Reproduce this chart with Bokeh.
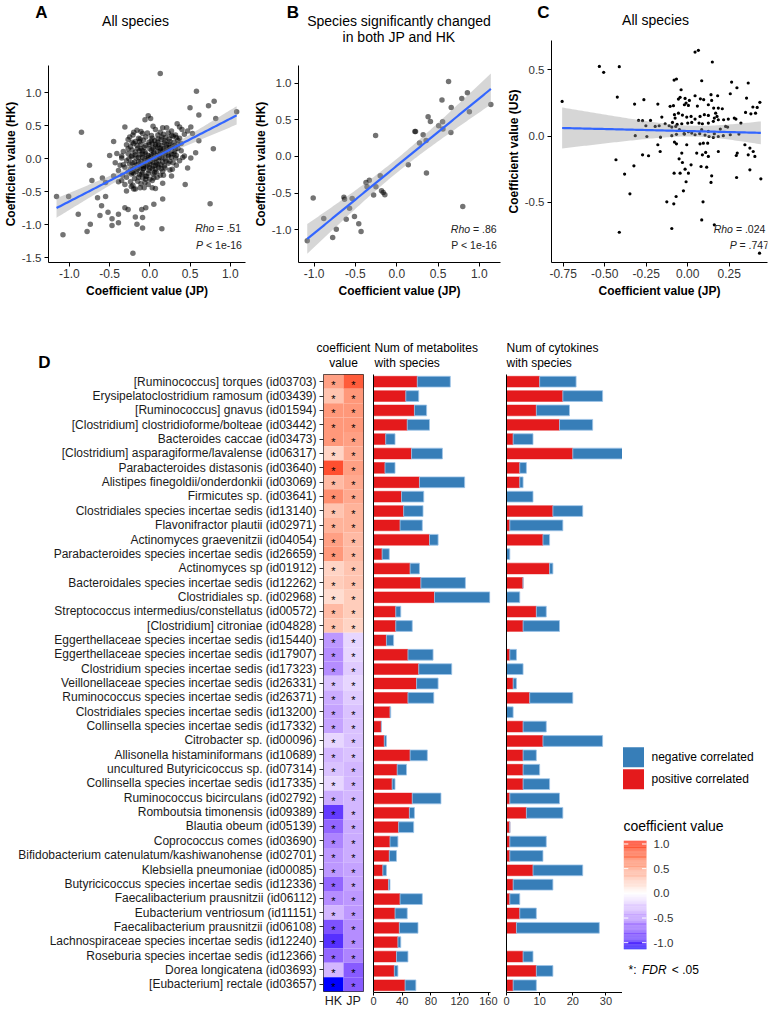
import numpy as np
from bokeh.plotting import figure
from bokeh.layouts import row, column
from bokeh.models import Range1d, Label, FixedTicker, PrintfTickFormatter, ColumnDataSource
from bokeh.core.properties import value
from bokeh.transform import linear_cmap
from bokeh.embed import file_html
from bokeh.resources import INLINE

FONT = "Liberation Sans"
NB = "\u00a0"

# ---------------- data ----------------
# Panel A: all species, coefficient JP (x) vs HK (y)
a_points = [
    (0.13, 1.29), (0.58, 1.02), (0.50, 0.77), (0.73, 0.80), (0.80, 0.87), (1.08, 0.71), (0.61, 0.66),
    (0.82, 0.61), (-0.85, 0.40), (-0.31, 0.48), (-0.02, 0.65), (-0.06, 0.59), (0.01, 0.61), (0.04, 0.49),
    (0.16, 0.47), (0.21, 0.47), (0.34, 0.53), (0.37, 0.48), (0.51, 0.48), (0.47, 0.42), (0.53, 0.38),
    (-0.45, 0.26), (-0.27, 0.29), (-0.75, -0.10), (-0.72, -0.33), (-1.16, -0.57), (-1.01, -0.57),
    (-0.89, -0.84), (-0.65, -0.59), (-0.55, -0.57), (-0.60, -0.71), (-0.62, -0.86), (-0.52, -0.81),
    (-0.39, -0.84), (-0.47, -0.91), (-0.47, -1.01), (-0.39, -0.97), (-0.74, -0.99), (-0.78, -1.10),
    (-1.08, -1.15), (-0.18, -0.88), (-0.09, -0.89), (-0.16, -0.99), (-0.09, -1.05), (-0.21, -1.43),
    (0.15, -1.06), (0.16, -0.61), (0.05, -0.69), (-0.05, -0.74), (-0.10, -0.77), (-0.31, -0.74),
    (-0.27, -0.77), (0.44, -0.39), (0.75, -0.68), (0.79, 0.15), (0.61, 0.27), (0.57, 0.09), (0.51, 0.01),
    (0.43, 0.04), (0.47, -0.14), (0.27, -0.26), (0.17, -0.25), (0.16, -0.37), (-0.50, 0.05), (-0.41, 0.08),
    (-0.35, 0.04), (-0.59, -0.29), (-0.55, -0.36), (-0.45, -0.26), (-0.39, -0.35), (-0.31, -0.39),
    (-0.29, -0.49), (-0.23, -0.42), (-0.20, -0.46), (-0.12, -0.44), (-0.05, -0.31), (0.03, -0.44),
    (0.07, -0.45), (-0.08, -0.15), (-0.22, -0.21), (-0.33, -0.09), (-0.43, -0.06),
    (-0.16, 0.43), (-0.11, 0.41), (0.07, 0.44), (0.13, 0.40), (0.27, 0.42), (0.40, 0.44),
    (-0.21, 0.36), (-0.09, 0.38), (0.02, 0.35), (0.17, 0.37), (0.23, 0.39), (0.32, 0.36), (0.43, 0.37),
    (-0.25, 0.33), (-0.14, 0.31), (-0.05, 0.33), (0.10, 0.30), (0.20, 0.32), (0.29, 0.34), (0.37, 0.31),
    (-0.18, 0.26), (-0.08, 0.28), (-0.01, 0.25), (0.06, 0.27), (0.14, 0.29), (0.25, 0.26), (0.35, 0.28),
    (-0.29, 0.21), (-0.20, 0.23), (-0.11, 0.22), (-0.05, 0.20), (0.03, 0.23), (0.11, 0.21), (0.18, 0.24),
    (0.24, 0.22), (0.31, 0.20), (0.39, 0.23),
    (-0.24, 0.18), (-0.15, 0.16), (-0.07, 0.17), (0.00, 0.15), (0.07, 0.18), (0.13, 0.16), (0.21, 0.17),
    (0.28, 0.19), (0.35, 0.16),
    (-0.33, 0.11), (-0.22, 0.13), (-0.13, 0.12), (-0.06, 0.10), (0.02, 0.13), (0.10, 0.11), (0.16, 0.12),
    (0.23, 0.14), (0.31, 0.11), (0.39, 0.12),
    (-0.27, 0.08), (-0.18, 0.06), (-0.09, 0.07), (-0.02, 0.05), (0.05, 0.08), (0.12, 0.06), (0.19, 0.08),
    (0.27, 0.07), (0.33, 0.05),
    (-0.35, 0.01), (-0.23, 0.03), (-0.14, 0.02), (-0.06, 0.00), (0.01, 0.03), (0.08, 0.01), (0.15, 0.02),
    (0.23, 0.04), (0.32, 0.01), (0.41, 0.02),
    (-0.29, -0.03), (-0.19, -0.05), (-0.11, -0.04), (-0.03, -0.02), (0.04, -0.05), (0.11, -0.03),
    (0.20, -0.04), (0.29, -0.06), (0.37, -0.03),
    (-0.37, -0.10), (-0.25, -0.08), (-0.16, -0.09), (-0.08, -0.11), (0.00, -0.08), (0.07, -0.10),
    (0.14, -0.09), (0.23, -0.07), (0.33, -0.10),
    (-0.31, -0.13), (-0.21, -0.15), (-0.12, -0.14), (-0.05, -0.12), (0.03, -0.15), (0.11, -0.13),
    (0.19, -0.14), (0.28, -0.16),
    (-0.39, -0.18), (-0.27, -0.20), (-0.17, -0.19), (-0.09, -0.21), (-0.01, -0.18), (0.08, -0.20),
    (0.16, -0.19), (0.25, -0.17),
    (-0.34, -0.25), (-0.23, -0.23), (-0.13, -0.24), (-0.04, -0.26), (0.04, -0.23), (0.13, -0.25),
    (-0.29, -0.28), (-0.19, -0.30), (-0.09, -0.29), (0.00, -0.31), (0.09, -0.28),
    (-0.35, -0.33), (-0.24, -0.35), (-0.15, -0.34), (-0.06, -0.36), (0.03, -0.33),
    (-0.21, -0.40), (-0.11, -0.38), (-0.02, -0.39), (-0.18, -0.46), (-0.07, -0.44),
    # dense core
    (-0.20, 0.40), (-0.03, 0.39), (0.10, 0.36), (0.27, 0.35),
    (-0.12, 0.30), (0.03, 0.31), (0.15, 0.33), (0.24, 0.30), (0.33, 0.32),
    (-0.22, 0.25), (-0.13, 0.26), (0.02, 0.27), (0.10, 0.25), (0.19, 0.27), (0.30, 0.25),
    (-0.16, 0.20), (-0.01, 0.21), (0.07, 0.22), (0.15, 0.20), (0.21, 0.21), (0.35, 0.22),
    (-0.27, 0.15), (-0.11, 0.15), (0.04, 0.16), (0.10, 0.17), (0.17, 0.15), (0.25, 0.17), (0.32, 0.15),
    (-0.18, 0.10), (-0.09, 0.12), (0.05, 0.10), (0.13, 0.12), (0.20, 0.10), (0.27, 0.12),
    (-0.22, 0.05), (-0.12, 0.06), (-0.05, 0.07), (0.02, 0.06), (0.09, 0.05), (0.16, 0.07), (0.23, 0.06),
    (0.30, 0.07),
    (-0.26, 0.00), (-0.17, 0.01), (-0.09, 0.02), (-0.02, 0.01), (0.05, 0.00), (0.12, 0.02), (0.19, 0.00),
    (0.27, 0.02),
    (-0.22, -0.06), (-0.14, -0.05), (-0.07, -0.06), (0.01, -0.04), (0.08, -0.06), (0.16, -0.05),
    (0.25, -0.04),
    (-0.19, -0.11), (-0.11, -0.10), (-0.03, -0.10), (0.04, -0.11), (0.10, -0.09), (0.18, -0.11),
    (-0.24, -0.16), (-0.15, -0.16), (-0.08, -0.15), (0.00, -0.14), (0.07, -0.16), (0.14, -0.15),
    (-0.20, -0.22), (-0.10, -0.23), (-0.02, -0.22), (0.06, -0.21),
    (-0.14, -0.28), (-0.05, -0.27), (0.05, -0.29),
]

# Panel B: species significantly changed in both JP and HK
b_points = [
    (0.628, 1.023), (0.548, 0.768), (0.788, 0.791), (0.856, 0.868), (1.14, 0.709), (0.66, 0.668),
    (0.88, 0.609), (0.38, 0.541), (0.408, 0.477), (0.556, 0.473), (0.508, 0.418), (0.56, 0.373),
    (0.656, 0.327), (0.22, 0.341), (0.228, 0.341), (0.32, 0.295), (-0.256, 0.286), (0.276, 0.182),
    (0.356, 0.218), (0.36, -0.227), (0.14, -0.114), (-0.2, -0.264), (-0.332, -0.323), (-0.372, -0.355),
    (-0.36, -0.414), (-0.252, -0.414), (-0.184, -0.468), (-0.28, -0.527), (-0.144, -0.523),
    (-0.164, -0.491), (-1.012, -0.568), (-0.64, -0.555), (-0.632, -0.582), (-0.54, -0.573),
    (-0.572, -0.705), (-0.884, -0.845), (-0.612, -0.855), (-0.512, -0.818), (0.8, -0.682),
    (-0.46, -0.918), (-0.732, -0.991), (-0.432, -1.023), (-0.776, -1.105), (-1.084, -1.15),
]

# Panel C: all species, coefficient JP (x) vs US (y)
c_points = [
    (0.044, 0.633), (0.064, 0.646), (0.148, 0.558), (-0.532, 0.525), (-0.506, 0.480), (-0.412, 0.523),
    (-0.424, 0.294), (-0.756, 0.261), (-0.32, 0.241), (-0.264, 0.274), (-0.18, 0.241), (-0.082, 0.422),
    (-0.068, 0.430), (-0.04, 0.349), (0.084, 0.417), (0.264, 0.407), (0.296, 0.364), (0.364, 0.400),
    (0.256, 0.319), (0.354, 0.286), (0.434, 0.254), (0.392, 0.219), (0.418, 0.216), (0.408, 0.173),
    (0.38, 0.168), (0.348, 0.178), (-0.106, 0.224), (-0.086, 0.229), (-0.056, 0.279), (-0.046, 0.292),
    (-0.016, 0.284), (-0.01, 0.249), (0.004, 0.231), (-0.02, 0.236), (0.01, 0.269), (0.044, 0.304),
    (0.076, 0.281), (0.096, 0.274), (0.058, 0.226), (0.124, 0.236), (0.14, 0.312), (0.18, 0.304),
    (0.144, 0.269), (0.156, 0.211), (0.184, 0.211), (0.208, 0.206), (0.168, 0.173), (0.176, 0.148),
    (0.16, 0.136), (0.124, 0.156), (0.1, 0.161), (0.074, 0.148), (0.044, 0.128), (0.02, 0.148),
    (-0.006, 0.143), (-0.032, 0.158), (-0.056, 0.173), (-0.08, 0.161), (-0.076, 0.136), (-0.092, 0.103),
    (-0.112, 0.078), (-0.064, 0.088), (-0.036, 0.093), (0.0, 0.098), (0.024, 0.103), (0.068, 0.098),
    (0.088, 0.093), (0.124, 0.098), (0.154, 0.111), (0.184, 0.123), (0.216, 0.123), (0.244, 0.128),
    (0.28, 0.136), (0.29, 0.128), (0.32, 0.098), (0.24, 0.068), (0.228, 0.073), (0.196, 0.053),
    (0.16, 0.018), (0.124, 0.035), (0.084, 0.048), (0.044, 0.010), (0.004, 0.033), (-0.022, 0.018),
    (-0.05, 0.048), (-0.072, 0.073), (-0.096, 0.068), (-0.136, 0.093), (-0.156, 0.143), (-0.172, 0.078),
    (-0.196, 0.073), (-0.224, 0.118), (-0.252, 0.078), (-0.272, 0.116), (-0.296, 0.118), (-0.316, 0.003),
    (-0.246, -0.003), (-0.164, -0.008), (-0.096, 0.003), (-0.068, 0.013), (-0.02, 0.015), (0.024, 0.023),
    (0.072, 0.018), (0.104, 0.008), (0.128, -0.003), (0.154, -0.010), (0.184, -0.003), (0.214, 0.003),
    (0.256, 0.010), (0.308, 0.015), (0.344, -0.065), (0.374, -0.090), (0.394, -0.116), (0.404, -0.153),
    (0.364, -0.141), (0.298, -0.128), (0.292, -0.146), (0.184, -0.116), (0.12, -0.053), (0.074, -0.058),
    (0.094, -0.053), (0.054, -0.128), (0.088, -0.141), (0.108, -0.123), (0.124, -0.153), (0.08, -0.229),
    (0.114, -0.234), (0.02, -0.216), (-0.006, -0.065), (-0.036, -0.128), (-0.08, -0.045), (-0.068, -0.058),
    (-0.052, -0.171), (-0.032, -0.199), (-0.016, -0.249), (0.004, -0.279), (-0.046, -0.279),
    (-0.082, -0.279), (-0.01, -0.344), (-0.026, -0.412), (-0.07, -0.455), (-0.084, -0.510),
    (-0.126, -0.495), (-0.18, -0.065), (-0.166, -0.116), (-0.236, -0.148), (-0.272, -0.141),
    (-0.324, -0.224), (-0.38, -0.286), (-0.348, -0.435), (-0.432, -0.178), (0.144, -0.299),
    (0.14, -0.349), (0.092, -0.495), (0.084, -0.631), (-0.096, -0.696), (-0.412, -0.724),
    (0.16, -0.668), (0.294, -0.312), (0.374, -0.254), (0.44, -0.322), (0.432, -0.882),
]

species = [
    "[Ruminococcus] torques (id03703)",
    "Erysipelatoclostridium ramosum (id03439)",
    "[Ruminococcus] gnavus (id01594)",
    "[Clostridium] clostridioforme/bolteae (id03442)",
    "Bacteroides caccae (id03473)",
    "[Clostridium] asparagiforme/lavalense (id06317)",
    "Parabacteroides distasonis (id03640)",
    "Alistipes finegoldii/onderdonkii (id03069)",
    "Firmicutes sp. (id03641)",
    "Clostridiales species incertae sedis (id13140)",
    "Flavonifractor plautii (id02971)",
    "Actinomyces graevenitzii (id04054)",
    "Parabacteroides species incertae sedis (id26659)",
    "Actinomyces sp (id01912)",
    "Bacteroidales species incertae sedis (id12262)",
    "Clostridiales sp. (id02968)",
    "Streptococcus intermedius/constellatus (id00572)",
    "[Clostridium] citroniae (id04828)",
    "Eggerthellaceae species incertae sedis (id15440)",
    "Eggerthellaceae species incertae sedis (id17907)",
    "Clostridium species incertae sedis (id17323)",
    "Veillonellaceae species incertae sedis (id26331)",
    "Ruminococcus species incertae sedis (id26371)",
    "Clostridiales species incertae sedis (id13200)",
    "Collinsella species incertae sedis (id17332)",
    "Citrobacter sp. (id00096)",
    "Allisonella histaminiformans (id10689)",
    "uncultured Butyricicoccus sp. (id07314)",
    "Collinsella species incertae sedis (id17335)",
    "Ruminococcus bicirculans (id02792)",
    "Romboutsia timonensis (id09389)",
    "Blautia obeum (id05139)",
    "Coprococcus comes (id03690)",
    "Bifidobacterium catenulatum/kashiwanohense (id02701)",
    "Klebsiella pneumoniae (id00085)",
    "Butyricicoccus species incertae sedis (id12336)",
    "Faecalibacterium prausnitzii (id06112)",
    "Eubacterium ventriosum (id11151)",
    "Faecalibacterium prausnitzii (id06108)",
    "Lachnospiraceae species incertae sedis (id12240)",
    "Roseburia species incertae sedis (id12366)",
    "Dorea longicatena (id03693)",
    "[Eubacterium] rectale (id03657)",
]
hk_coef = [0.55, 0.35, 0.6, 0.6, 0.6, 0.25, 0.95, 0.4, 0.65, 0.35, 0.45, 0.55, 0.6, 0.25, 0.3, 0.2, 0.4, 0.35,
           -0.5, -0.55, -0.55, -0.3, -0.4, -0.45, -0.45, -0.2, -0.35, -0.3, -0.2, -0.4, -0.95, -0.75, -0.6,
           -0.5, -0.5, -0.75, -0.55, -0.35, -0.85, -1.0, -0.75, -0.35, -1.135]
jp_coef = [0.9, 0.6, 0.6, 0.6, 0.55, 0.5, 0.55, 0.5, 0.5, 0.45, 0.45, 0.4, 0.4, 0.35, 0.35, 0.3, 0.3, 0.25,
           -0.2, -0.2, -0.25, -0.2, -0.25, -0.3, -0.3, -0.3, -0.3, -0.35, -0.35, -0.35, -0.35, -0.4, -0.4,
           -0.4, -0.45, -0.45, -0.5, -0.5, -0.55, -0.55, -0.6, -0.8, -0.8]
met_pos = [61, 45, 57, 47, 17, 53, 16, 64, 39, 42, 37, 78, 12, 51, 66, 85, 31, 31, 18, 48, 63, 60, 48, 23,
           11, 15, 51, 33, 26, 54, 50, 35, 23, 22, 13, 21, 37, 30, 36, 34, 32, 29, 44]
met_neg = [46, 18, 17, 31, 13, 43, 14, 63, 31, 27, 31, 12, 10, 13, 62, 77, 7, 23, 10, 35, 46, 30, 36, 1,
           0, 3, 24, 13, 4, 40, 7, 21, 11, 10, 5, 2, 31, 17, 26, 4, 16, 5, 15]
cyt_pos = [10, 17, 9, 16, 2, 20, 4, 4, 0, 14, 1, 11, 0, 13, 5, 0, 9, 5, 0, 1, 0, 2, 7, 0, 5, 11, 5, 5,
           5, 1, 6, 1, 1, 1, 8, 2, 1, 4, 3, 0, 5, 9, 2]
cyt_neg = [11, 12, 10, 10, 6, 15, 2, 1, 8, 9, 16, 2, 1, 1, 0, 4, 3, 11, 0, 2, 5, 1, 13, 2, 7, 18, 4, 5,
           8, 15, 11, 0, 11, 10, 15, 12, 3, 5, 25, 0, 3, 5, 7]
legend_labels = ["negative correlated", "positive correlated"]
colorbar_ticks = [1.0, 0.5, 0.0, -0.5, -1.0]
coef_low, coef_high = -1.135, 1.067

RED = "#E41A1C"
BLUE = "#377EB8"
TICK_COL = "#333333"


# ---------------- colour ramp (ggplot gradient2 style, Lab interpolation) ----------------
_M = np.array([[0.4124564, 0.3575761, 0.1804375],
               [0.2126729, 0.7151522, 0.0721750],
               [0.0193339, 0.1191920, 0.9503041]])
_WN = np.array([0.95047, 1.0, 1.08883])


def _to_lab(rgb):
    c = np.asarray(rgb, float)
    c = np.where(c <= 0.04045, c / 12.92, ((c + 0.055) / 1.055) ** 2.4)
    xyz = _M @ c / _WN
    d = 6 / 29
    f = np.where(xyz > d ** 3, np.cbrt(xyz), xyz / (3 * d * d) + 4 / 29)
    return np.array([116 * f[1] - 16, 500 * (f[0] - f[1]), 200 * (f[1] - f[2])])


def _to_hex(lab):
    L, a, b = lab
    fy = (L + 16) / 116
    f = np.array([fy + a / 500, fy, fy - b / 200])
    d = 6 / 29
    xyz = np.where(f > d, f ** 3, 3 * d * d * (f - 4 / 29)) * _WN
    lin = np.linalg.inv(_M) @ xyz
    lin = np.clip(lin, 0, None)
    c = np.where(lin <= 0.0031308, 12.92 * lin, 1.055 * lin ** (1 / 2.4) - 0.055)
    c = np.clip(c, 0, 1)
    return "#%02x%02x%02x" % tuple(int(round(v * 255)) for v in c)


_lab_lo, _lab_mid, _lab_hi = _to_lab([0, 0, 1]), _to_lab([1, 1, 1]), _to_lab([1, 0, 0])
PALETTE = []
for i in range(256):
    t = i / 255
    if t <= 0.5:
        lab = _lab_lo + (_lab_mid - _lab_lo) * (t / 0.5)
    else:
        lab = _lab_mid + (_lab_hi - _lab_mid) * ((t - 0.5) / 0.5)
    PALETTE.append(_to_hex(lab))
CMAP_LIM = max(abs(coef_low), abs(coef_high))


# ---------------- helpers ----------------
def make_fig(box, frame, xr, yr, axes=True):
    bl, bt, bw, bh = box
    fl, ft, fw, fh = frame
    kw = {}
    if not axes:
        kw = dict(x_axis_location=None, y_axis_location=None)
    p = figure(width=bw, height=bh, x_range=Range1d(*xr), y_range=Range1d(*yr),
               output_backend="svg", toolbar_location=None,
               min_border_left=fl - bl, min_border_right=bl + bw - fl - fw,
               min_border_top=ft - bt, min_border_bottom=bt + bh - ft - fh, **kw)
    try:
        p.frame_align = False
    except Exception:
        pass
    p.grid.visible = False
    p.outline_line_color = None
    p.background_fill_color = "white"
    p.border_fill_color = "white"
    return p


def text_fig(box):
    """A figure with no axes whose ranges are page pixels (y downward), for free text."""
    bl, bt, bw, bh = box
    return make_fig(box, box, (bl, bl + bw), (bt + bh, bt), axes=False)


def put(p, frame, xr, yr, px, py, text, size, style="normal", align="left", angle=0.0, color="black"):
    fl, ft, fw, fh = frame
    x = xr[0] + (px - fl) * (xr[1] - xr[0]) / fw
    y = yr[1] - (py - ft) * (yr[1] - yr[0]) / fh
    p.add_layout(Label(x=x, y=y, text=text, text_font=FONT, text_font_size=f"{size}px",
                       text_font_style=style, text_align=align, text_baseline="middle",
                       angle=angle, text_color=color))


def put_px(p, box, px, py, text, size, **kw):
    bl, bt, bw, bh = box
    put(p, box, (bl, bl + bw), (bt + bh, bt), px, py, text, size, **kw)


def style_axes(p, tick_size="12px"):
    for ax in p.axis:
        ax.axis_line_color = "black"
        ax.axis_line_width = 1
        ax.major_tick_line_color = "black"
        ax.major_tick_out = 4
        ax.major_tick_in = 0
        ax.minor_tick_line_color = None
        ax.major_label_text_font = FONT
        ax.major_label_text_font_size = tick_size
        ax.major_label_text_color = TICK_COL
        ax.major_label_standoff = 2
        ax.axis_label_text_font = FONT
        ax.axis_label_text_font_style = "bold"
        ax.axis_label_text_font_size = "12px"
        ax.axis_label_text_color = "black"
        ax.axis_label_standoff = 3


def fit_band(xs, ys, n=100):
    x = np.asarray(xs, float)
    y = np.asarray(ys, float)
    b, a = np.polyfit(x, y, 1)
    gx = np.linspace(x.min(), x.max(), n)
    gy = a + b * gx
    resid = y - (a + b * x)
    s = np.sqrt((resid ** 2).sum() / (len(x) - 2))
    se = s * np.sqrt(1 / len(x) + (gx - x.mean()) ** 2 / ((x - x.mean()) ** 2).sum())
    return gx, gy, gy - 1.97 * se, gy + 1.97 * se


def scatter_panel(box, frame, xr, yr, pts, xticks, yticks, xfmt, yfmt, size, alpha, ylab):
    p = make_fig(box, frame, xr, yr)
    xs = [q[0] for q in pts]
    ys = [q[1] for q in pts]
    gx, gy, lo, hi = fit_band(xs, ys)
    p.scatter(xs, ys, size=size, fill_color="black", fill_alpha=alpha, line_color=None)
    p.varea(x=gx, y1=lo, y2=hi, fill_color="#999999", fill_alpha=0.4)
    p.line(gx, gy, line_color="#3366FF", line_width=2.2)
    style_axes(p)
    p.xaxis.ticker = FixedTicker(ticks=xticks)
    p.yaxis.ticker = FixedTicker(ticks=yticks)
    p.xaxis.formatter = PrintfTickFormatter(format=xfmt)
    p.yaxis.formatter = PrintfTickFormatter(format=yfmt)
    p.xaxis.axis_label = "Coefficient value (JP)"
    p.yaxis.axis_label = ylab
    p.yaxis.major_label_text_font_size = "11.5px"
    p.yaxis.major_label_standoff = 3
    p.yaxis.axis_label_standoff = 1
    return p


# ---------------- top row ----------------
BOX_TA = (0, 0, 250, 46)
tA = text_fig(BOX_TA)
put_px(tA, BOX_TA, 41, 12, "A", 17, style="bold", align="center")
put_px(tA, BOX_TA, 135, 20, "All species", 14, align="center")

BOX_TB = (250, 0, 253, 46)
tB = text_fig(BOX_TB)
put_px(tB, BOX_TB, 292.5, 12, "B", 17, style="bold", align="center")
put_px(tB, BOX_TB, 398.5, 20.5, "Species significantly changed", 14, align="center")
put_px(tB, BOX_TB, 398.5, 36, "in both JP and HK", 14, align="center")

BOX_TC = (503, 0, 265, 38)
tC = text_fig(BOX_TC)
put_px(tC, BOX_TC, 543, 12, "C", 17, style="bold", align="center")
put_px(tC, BOX_TC, 655, 19, "All species", 14, align="center")

FR_A = (42, 65, 203, 197)
XR_A, YR_A = (-1.26, 1.19), (-1.57, 1.41)
pA = scatter_panel((0, 46, 250, 284), FR_A, XR_A, YR_A, a_points,
                   [-1, -0.5, 0, 0.5, 1], [-1.5, -1, -0.5, 0, 0.5, 1], "%.1f", "%.1f", 5.5, 0.55,
                   "Coefficient value (HK)")
put(pA, FR_A, XR_A, YR_A, 213, 227.7, "Rho", 10.5, style="italic", align="right", color="#222222")
put(pA, FR_A, XR_A, YR_A, 213, 227.7, NB + "=" + NB + ".51", 10.5, color="#222222")
put(pA, FR_A, XR_A, YR_A, 201.3, 244.7, "P", 10.5, style="italic", align="right", color="#222222")
put(pA, FR_A, XR_A, YR_A, 201.3, 244.7, NB + "<" + NB + "1e-16", 10.5, color="#222222")

FR_B = (296, 65, 204, 197)
XR_B, YR_B = (-1.19, 1.257), (-1.446, 1.24)
pB = scatter_panel((250, 46, 253, 284), FR_B, XR_B, YR_B, b_points,
                   [-1, -0.5, 0, 0.5, 1], [-1, -0.5, 0, 0.5, 1], "%.1f", "%.1f", 5.5, 0.55,
                   "Coefficient value (HK)")
put(pB, FR_B, XR_B, YR_B, 469.3, 228, "Rho", 10.5, style="italic", align="right", color="#222222")
put(pB, FR_B, XR_B, YR_B, 469.3, 228, NB + "=" + NB + ".86", 10.5, color="#222222")
put(pB, FR_B, XR_B, YR_B, 450.3, 244.7, "P < 1e-16", 10.5, color="#222222")

FR_C = (550, 40, 217, 222)
XR_C, YR_C = (-0.82, 0.48), (-0.952, 0.72)
pC = scatter_panel((503, 38, 265, 292), FR_C, XR_C, YR_C, c_points,
                   [-0.75, -0.5, -0.25, 0, 0.25], [-0.5, 0, 0.5], "%.2f", "%.1f", 3.2, 1.0,
                   "Coefficient value (US)")
put(pC, FR_C, XR_C, YR_C, 732.3, 228.5, "Rho", 10.5, style="italic", align="right", color="#222222")
put(pC, FR_C, XR_C, YR_C, 732.3, 228.5, NB + "=" + NB + ".024", 10.5, color="#222222")
put(pC, FR_C, XR_C, YR_C, 736, 244.5, "P", 10.5, style="italic", align="right", color="#222222")
put(pC, FR_C, XR_C, YR_C, 736, 244.5, NB + "=" + NB + ".747", 10.5, color="#222222")

# ---------------- panel D ----------------
n_sp = len(species)
ypos = [n_sp - 1 - i for i in range(n_sp)]
YR_D = (-0.5, n_sp - 0.5)
BOX_TOP, BOX_H = 372, 638
FTOP, FH = 374, 618

# header strip with the column titles
BOX_HD = (0, 330, 768, 42)
tD = text_fig(BOX_HD)
put_px(tD, BOX_HD, 44, 361.5, "D", 17, style="bold", align="center")
put_px(tD, BOX_HD, 343, 347, "coefficient", 12, align="center")
put_px(tD, BOX_HD, 343, 362, "value", 12, align="center")
put_px(tD, BOX_HD, 374, 347, "Num of metabolites", 12)
put_px(tD, BOX_HD, 374, 362, "with species", 12)
put_px(tD, BOX_HD, 506, 347, "Num of cytokines", 12)
put_px(tD, BOX_HD, 506, 362, "with species", 12)

FR_H = (323, FTOP, 40, FH)
XR_H = (-0.5, 1.5)
pH = make_fig((0, BOX_TOP, 370, BOX_H), FR_H, XR_H, YR_D)
heat_src = ColumnDataSource(dict(
    x=[0] * n_sp + [1] * n_sp,
    y=ypos + ypos,
    v=hk_coef + jp_coef,
    star=["*"] * (2 * n_sp),
))
pH.rect(x="x", y="y", width=1, height=1, source=heat_src, line_color=None,
        fill_color=linear_cmap("v", PALETTE, -CMAP_LIM, CMAP_LIM))
pH.text(x="x", y="y", text="star", source=heat_src, text_font=value(FONT), text_font_size="11px",
        text_align="center", text_baseline="middle", y_offset=3, text_color="black")
pH.outline_line_color = "#333333"
pH.outline_line_width = 1
style_axes(pH)
pH.xaxis.ticker = FixedTicker(ticks=[0, 1])
pH.xaxis.major_label_overrides = {0: "HK", 1: "JP"}
pH.xaxis.major_tick_line_color = None
pH.xaxis.major_tick_out = 0
pH.xaxis.axis_line_color = None
pH.xaxis.major_label_text_color = "#1a1a1a"
pH.xaxis.major_label_text_font_size = "12.5px"
pH.xaxis.major_label_standoff = 2
pH.yaxis.ticker = FixedTicker(ticks=ypos)
pH.yaxis.major_label_overrides = {y: s for y, s in zip(ypos, species)}
pH.yaxis.major_label_text_font_size = "12px"
pH.yaxis.major_label_text_color = "#1a1a1a"
pH.yaxis.axis_line_color = None
pH.yaxis.major_tick_line_color = "#333333"
pH.yaxis.major_label_standoff = 3


def bar_panel(box, frame, xr, pos, neg, xticks):
    p = make_fig(box, frame, xr, YR_D)
    src = ColumnDataSource(dict(y=ypos, pos=pos, neg=neg))
    p.hbar_stack(["pos", "neg"], y="y", height=0.75, source=src,
                 fill_color=[RED, BLUE], line_color=[RED, "#9fc5e8"], line_width=[0.5, 0.8])
    style_axes(p, tick_size="11px")
    p.xaxis.ticker = FixedTicker(ticks=xticks)
    p.xaxis.major_tick_out = 3
    p.xaxis.major_label_standoff = 1
    p.yaxis.ticker = FixedTicker(ticks=[])
    p.yaxis.major_tick_line_color = None
    p.yaxis.major_label_standoff = 0
    p.yaxis.major_tick_out = 0
    return p


FR_M = (373, FTOP, 117, FH)
pM = bar_panel((370, BOX_TOP, 130, BOX_H), FR_M, (0, 163), met_pos, met_neg, [0, 40, 80, 120, 160])
FR_Y = (506, FTOP, 116, FH)
pY = bar_panel((500, BOX_TOP, 122, BOX_H), FR_Y, (0, 35), cyt_pos, cyt_neg, [0, 10, 20, 30])

# legend / colour bar panel (ranges in page pixels, y downward)
BOX_L = (622, BOX_TOP, 146, BOX_H)
pL = text_fig(BOX_L)
pL.quad(left=[622.5, 622.5], right=[643.5, 643.5], top=[746.8, 768.7], bottom=[766.7, 788.7],
        fill_color=[BLUE, RED], line_color=None)
put_px(pL, BOX_L, 651, 756.8, legend_labels[0], 12)
put_px(pL, BOX_L, 651, 778.7, legend_labels[1], 12)
put_px(pL, BOX_L, 623, 825.2, "coefficient value", 14)


def cb_y(v):
    return 892.85 - 49.35 * v


edges = np.linspace(coef_low, coef_high, 121)
mids = (edges[:-1] + edges[1:]) / 2
cb_src = ColumnDataSource(dict(v=mids, top=[cb_y(e) for e in edges[1:]], bottom=[cb_y(e) for e in edges[:-1]]))
pL.quad(left=623.3, right=646, top="top", bottom="bottom", source=cb_src, line_color=None,
        fill_color=linear_cmap("v", PALETTE, -CMAP_LIM, CMAP_LIM))
tick_y = [cb_y(v) for v in colorbar_ticks]
pL.segment(x0=[623.3] * 5, x1=[627.8] * 5, y0=tick_y, y1=tick_y, line_color="white", line_width=1)
pL.segment(x0=[641.5] * 5, x1=[646] * 5, y0=tick_y, y1=tick_y, line_color="white", line_width=1)
for v, yy in zip(colorbar_ticks, tick_y):
    put_px(pL, BOX_L, 653, yy, "%.1f" % v, 11.5, color=TICK_COL)
put_px(pL, BOX_L, 628, 969.8, "*:", 12)
put_px(pL, BOX_L, 641.5, 969.8, "FDR", 12, style="italic")
put_px(pL, BOX_L, 668, 969.8, NB + "<" + NB + ".05", 12)

layout = column(
    row(column(tA, pA), column(tB, pB), column(tC, pC)),
    tD,
    row(pH, pM, pY, pL),
)
open("out.html", "w").write(file_html(layout, INLINE))
